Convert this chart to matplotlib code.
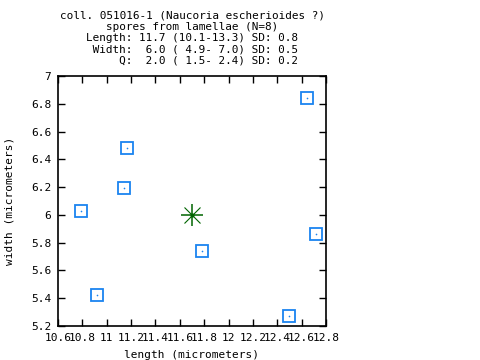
import matplotlib
matplotlib.use("Agg")
import matplotlib.pyplot as plt
import numpy as np

lengths = [12.645, 11.169, 11.144, 10.791, 11.784, 12.719, 10.922, 12.497]
widths = [6.84, 6.48, 6.19, 6.026, 5.738, 5.86, 5.421, 5.27]
mean_length = 11.7
mean_width = 6.0
xticks = [10.6, 10.8, 11.0, 11.2, 11.4, 11.6, 11.8, 12.0, 12.2, 12.4, 12.6, 12.8]
xticklabels = ["10.6", "10.8", "11", "11.2", "11.4", "11.6", "11.8", "12", "12.2", "12.4", "12.6", "12.8"]
yticks = [5.2, 5.4, 5.6, 5.8, 6.0, 6.2, 6.4, 6.6, 6.8, 7.0]
yticklabels = ["5.2", "5.4", "5.6", "5.8", "6", "6.2", "6.4", "6.6", "6.8", "7"]
title_lines = [
    "coll. 051016-1 (Naucoria escherioides ?)",
    "spores from lamellae (N=8)",
    "Length: 11.7 (10.1-13.3) SD: 0.8",
    " Width:  6.0 ( 4.9- 7.0) SD: 0.5",
    "     Q:  2.0 ( 1.5- 2.4) SD: 0.2",
]

FONT = "DejaVu Sans Mono"
FS = 8.0
TFS = 7.9

fig = plt.figure(figsize=(4.8, 3.6), dpi=100)
ax = fig.add_axes([58 / 480, 1 - 326 / 360, (326 - 58) / 480, (326 - 76) / 360])

blue = "#1a84f0"
green = "#006400"
ax.plot(lengths, widths, linestyle="none", marker="s", markersize=8, mfc="none",
        mec=blue, mew=1.3, clip_on=False)
ax.plot(lengths, widths, linestyle="none", marker="o", markersize=1.2, mfc=blue,
        mec=blue, mew=0, clip_on=False)
ax.plot([mean_length], [mean_width], linestyle="none", marker="+", markersize=16,
        mec=green, mew=1.1)
ax.plot([mean_length], [mean_width], linestyle="none", marker="x", markersize=11.5,
        mec=green, mew=0.8)
ax.plot([mean_length], [mean_width], linestyle="none", marker="o", markersize=3,
        mfc=green, mec=green, mew=0)

ax.set_xlim(10.6, 12.8)
ax.set_ylim(5.2, 7.0)
ax.set_xticks(xticks)
ax.set_xticklabels(xticklabels, fontfamily=FONT, fontsize=FS)
ax.set_yticks(yticks)
ax.set_yticklabels(yticklabels, fontfamily=FONT, fontsize=FS)
ax.tick_params(direction="in", length=5, width=1, top=True, right=True, pad=5)
for s in ax.spines.values():
    s.set_linewidth(1.2)

ax.set_xlabel("length (micrometers)", fontfamily=FONT, fontsize=FS, labelpad=5)
ax.set_ylabel("width (micrometers)", fontfamily=FONT, fontsize=FS, labelpad=12)

for i, line in enumerate(title_lines):
    fig.text(192 / 480, 1 - (15.5 + i * 11.3) / 360, line, ha="center", va="center",
             fontfamily=FONT, fontsize=TFS)

fig.savefig("out.png", dpi=100)
